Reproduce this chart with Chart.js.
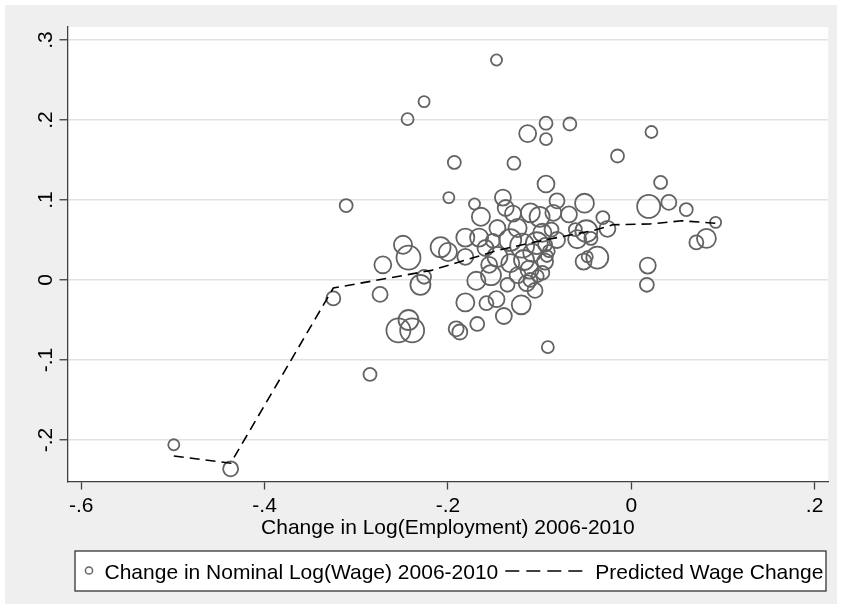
<!DOCTYPE html>
<html>
<head>
<meta charset="utf-8">
<script src="https://cdn.jsdelivr.net/npm/chart.js@4.4.1/dist/chart.umd.min.js"></script>
<style>
  html, body { margin: 0; padding: 0; background: #ffffff; }
  canvas { display: block; }
</style>
</head>
<body>
<canvas id="c" width="842" height="615"></canvas>
<script>
// Change in log employment 2006-2010 (x) for each area
const empChange = [
  -0.499, -0.437, -0.285, -0.325, -0.311, -0.244, -0.226, -0.147, -0.193, -0.128,
  -0.113, -0.093, -0.093, -0.067,  0.022, -0.015, -0.093,  0.032,  0.019,  0.041,
   0.060,  0.092,  0.082,  0.071,  0.018,  0.017, -0.091, -0.199, -0.171, -0.164,
  -0.249, -0.243, -0.271, -0.274, -0.226, -0.230, -0.208, -0.200, -0.254, -0.243,
  -0.239, -0.191, -0.187, -0.168, -0.181, -0.181, -0.166, -0.181, -0.169, -0.158,
  -0.147, -0.139, -0.120, -0.153, -0.140, -0.137, -0.129, -0.110, -0.100, -0.132,
  -0.119, -0.103, -0.097, -0.087, -0.146, -0.155, -0.132, -0.117, -0.124, -0.111,
  -0.097, -0.094, -0.114, -0.105, -0.135, -0.159, -0.151, -0.124, -0.108, -0.090,
  -0.085, -0.068, -0.081, -0.051, -0.031, -0.026, -0.061, -0.049, -0.059, -0.044,
  -0.052, -0.048, -0.037, -0.092, -0.102, -0.110, -0.094, -0.081, -0.146
];
// Change in nominal log wage 2006-2010 (y) for the same areas
const wageChange = [
  -0.206, -0.236, -0.118, -0.023,  0.093,  0.201,  0.223,  0.275,  0.147,  0.146,
   0.183,  0.196,  0.176,  0.195,  0.185,  0.155,  0.120,  0.122,  0.092,  0.097,
   0.088,  0.072,  0.052,  0.047,  0.018, -0.006, -0.084,  0.103,  0.095,  0.079,
   0.044,  0.028,  0.019, -0.018,  0.004, -0.006,  0.041,  0.035, -0.063, -0.050,
  -0.063, -0.061, -0.065, -0.055, -0.028,  0.053,  0.053,  0.029, -0.001, -0.029,
  -0.024, -0.045, -0.031,  0.006,  0.103,  0.090,  0.083,  0.084,  0.079,  0.050,
   0.043,  0.046,  0.059,  0.063,  0.029,  0.019,  0.021,  0.025,  0.006,  0.013,
   0.009,  0.023, -0.004, -0.013, -0.006,  0.040,  0.049,  0.065,  0.034,  0.036,
   0.084,  0.082,  0.099,  0.096,  0.078,  0.064,  0.063,  0.061,  0.051,  0.052,
   0.023,  0.029,  0.028,  0.030,  0.005,  0.000,  0.044,  0.050,  0.065
];
// Employment weight of each area (sets the marker area)
const empWeight = [
  12, 22, 16.5, 19, 16.5, 14, 12, 12, 16.5, 16.5,
  28, 16.5, 14, 16.5, 14, 16.5, 28, 16.5, 52, 22,
  16.5, 12, 35, 19, 25, 19, 14, 12, 12, 32,
  32, 56, 28, 22, 19, 39, 39, 32, 56, 39,
  56, 22, 22, 19, 32, 32, 32, 25, 32, 19,
  25, 25, 35, 39, 25, 25, 25, 35, 39, 47,
  56, 47, 32, 19, 39, 25, 32, 39, 25, 32,
  19, 25, 25, 22, 19, 25, 19, 32, 32, 14,
  25, 25, 22, 35, 16.5, 25, 16.5, 47, 32, 16.5,
  25, 12, 47, 14, 14, 19, 19, 25, 25
];
// Predicted wage change along the employment axis
const predEmp  = [-0.499, -0.437, -0.325, -0.218, -0.146, -0.103, -0.041, -0.020, 0.020, 0.055, 0.092];
const predWage = [-0.220, -0.229, -0.010,  0.012,  0.037,  0.048,  0.062,  0.069, 0.070, 0.074, 0.071];

const xTicks = [-0.6, -0.4, -0.2, 0, 0.2];
const xTickLabels = ['-.6', '-.4', '-.2', '0', '.2'];
const yTicks = [-0.2, -0.1, 0, 0.1, 0.2, 0.3];
const yTickLabels = ['-.2', '-.1', '0', '.1', '.2', '.3'];

const xTitle = 'Change in Log(Employment) 2006-2010';
const wageLabel = 'Change in Nominal Log(Wage) 2006-2010';
const predLabel = 'Predicted Wage Change';

const FAMILY = '"Liberation Sans", Arial, Helvetica, sans-serif';
const AXIS = '#404040';

const radiusOf = w => 1.6 * Math.sqrt(w);

const bubbleData = empChange.map((x, i) => ({ x, y: wageChange[i], r: radiusOf(empWeight[i]) }));
const lineData = predEmp.map((x, i) => ({ x, y: predWage[i] }));

// Grey page, white plot region, axis title and a boxed legend
const frame = {
  id: 'frame',
  beforeDraw(chart) {
    const { ctx, chartArea: a, width, height } = chart;
    ctx.save();
    ctx.fillStyle = '#ffffff';
    ctx.fillRect(0, 0, width, height);
    ctx.fillStyle = '#efefef';
    ctx.fillRect(5, 5, width - 10, height - 16);
    ctx.fillStyle = '#ffffff';
    ctx.fillRect(a.left, a.top, a.right - a.left, a.bottom - a.top);
    ctx.restore();
  },
  afterDraw(chart) {
    const { ctx, chartArea: a } = chart;
    const ds = chart.data.datasets;
    ctx.save();
    ctx.font = '21px ' + FAMILY;
    ctx.fillStyle = '#000';
    ctx.textBaseline = 'alphabetic';

    // x-axis title
    ctx.textAlign = 'center';
    ctx.fillText(xTitle, (a.left + a.right) / 2, 533.5);

    // legend box
    const bx = 75, by = 551, bw = 751, bh = 40;
    ctx.fillStyle = '#ffffff';
    ctx.fillRect(bx, by, bw, bh);
    ctx.strokeStyle = '#333';
    ctx.lineWidth = 1.3;
    ctx.strokeRect(bx, by, bw, bh);

    const midY = by + bh / 2;
    // marker sample
    ctx.beginPath();
    ctx.arc(89, midY - 0.5, 3.6, 0, Math.PI * 2);
    ctx.strokeStyle = '#666';
    ctx.lineWidth = 1.5;
    ctx.stroke();

    ctx.fillStyle = '#000';
    ctx.textAlign = 'left';
    const t1x = 104.5;
    const wageText = ds[1].label;
    ctx.fillText(wageText, t1x, 579);
    const t1end = t1x + ctx.measureText(wageText).width;

    // dashed line sample
    const d0 = t1end + 7, d1 = d0 + 80;
    ctx.beginPath();
    ctx.setLineDash([14, 7]);
    ctx.moveTo(d0, midY);
    ctx.lineTo(d1, midY);
    ctx.strokeStyle = '#000';
    ctx.lineWidth = 1.6;
    ctx.stroke();
    ctx.setLineDash([]);

    ctx.fillText(ds[0].label, d1 + 10, 579);
    ctx.restore();
  }
};

new Chart(document.getElementById('c'), {
  type: 'scatter',
  data: {
    datasets: [
      {
        type: 'line',
        label: predLabel,
        data: lineData,
        borderColor: '#000',
        borderWidth: 1.6,
        borderDash: [10, 6],
        pointRadius: 0,
        fill: false,
        tension: 0,
        order: 0
      },
      {
        type: 'bubble',
        label: wageLabel,
        data: bubbleData,
        backgroundColor: 'rgba(0,0,0,0)',
        borderColor: '#636363',
        borderWidth: 1.8,
        hoverBorderWidth: 1.8,
        order: 1
      }
    ]
  },
  options: {
    responsive: false,
    devicePixelRatio: 1,
    animation: false,
    events: [],
    layout: { padding: { top: 27, right: 9, bottom: 0, left: 0 } },
    plugins: {
      legend: { display: false },
      tooltip: { enabled: false },
      title: { display: false }
    },
    scales: {
      x: {
        type: 'linear',
        min: -0.61496,
        max: 0.21485,
        afterBuildTicks: s => { s.ticks = xTicks.map(v => ({ value: v })); },
        afterFit: s => { s.height = 133.5; },
        grid: { drawOnChartArea: false, drawTicks: true, tickLength: 8, tickColor: AXIS, tickWidth: 1.3 },
        border: { display: true, color: AXIS, width: 1.3 },
        ticks: {
          autoSkip: false,
          maxRotation: 0,
          minRotation: 0,
          padding: 4,
          color: '#000',
          font: { family: FAMILY, size: 21 },
          callback: v => xTickLabels[xTicks.findIndex(t => Math.abs(t - v) < 1e-9)]
        }
      },
      y: {
        type: 'linear',
        min: -0.25188,
        max: 0.31625,
        afterBuildTicks: s => { s.ticks = yTicks.map(v => ({ value: v })); },
        afterFit: s => { s.width = 67.5; },
        grid: { color: '#e2e2e2', lineWidth: 1.5, drawTicks: true, tickLength: 8, tickColor: AXIS, tickWidth: 1.3 },
        border: { display: true, color: AXIS, width: 1.3 },
        ticks: {
          autoSkip: false,
          minRotation: 90,
          maxRotation: 90,
          crossAlign: 'center',
          padding: 1,
          color: '#000',
          font: { family: FAMILY, size: 21 },
          callback: v => yTickLabels[yTicks.findIndex(t => Math.abs(t - v) < 1e-9)]
        }
      }
    }
  },
  plugins: [frame]
});
</script>
</body>
</html>
